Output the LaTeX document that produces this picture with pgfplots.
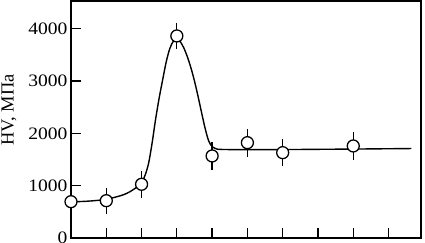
\documentclass[border=0pt]{standalone}
\usepackage{fontspec}
\setmainfont{Liberation Serif}
\newfontfamily\tickfont{Liberation Serif}[FakeStretch=1.12]
\usepackage{pgfplots}
\pgfplotsset{compat=1.18}
\begin{document}
\begin{tikzpicture}
\begin{axis}[
  scale only axis,
  width=350bp, height=237bp,
  xmin=0, xmax=9.92,
  ymin=0, ymax=4530,
  axis line style={line width=1.4pt},
  tick pos=left,
  tick align=inside,
  xtick={1,2,3,4,5,6,7,8,9},
  xticklabels={},
  major tick length=10bp,
  tick style={line width=1.3pt, black},
  ytick={0,1000,2000,3000,4000},
  /pgf/number format/assume math mode=true,
  /pgf/number format/1000 sep={},
  yticklabel style={font=\tickfont\fontsize{17.5}{17.5}\selectfont, xshift=0bp},
  ylabel={HV, МПа},
  ylabel style={font=\fontsize{18.5}{18.5}\selectfont, at={(axis description cs:-0.177,0.54)}, anchor=center, rotate=0},
  clip=false,
]
\addplot[black, line width=1.4pt, smooth, tension=0.5] coordinates {
(0,690) (0.5,705) (1.0,740) (1.5,830) (1.8,940) (2.0,1060) (2.1,1200) (2.2,1430)
(2.3,1820) (2.4,2280) (2.5,2680) (2.6,3030) (2.7,3370) (2.8,3620) (2.9,3760)
(3.0,3800) (3.1,3750) (3.2,3630) (3.3,3460) (3.4,3250) (3.5,3000) (3.6,2710)
(3.7,2400) (3.8,2100) (3.9,1860) (4.0,1745) (4.1,1708) (4.25,1693) (5,1688)
(6,1690) (7,1695) (8,1700) (9.65,1710)
};
\addplot[black, line width=1.3pt, only marks, mark=*, mark size=6bp,
  mark options={fill=white, line width=1.3pt},
  error bars/.cd, y dir=both, y explicit, error mark=none,
  error bar style={line width=1.3pt}]
  coordinates {
(0,694) +- (0,250)
(1,713) +- (0,250)
(2,1027) +- (0,260)
(3,3862) +- (0,250)
(4,1568) +- (0,270)
(5,1822) +- (0,265)
(6,1631) +- (0,260)
(8,1759) +- (0,260)
};
\end{axis}
\pgfresetboundingbox
\path[use as bounding box] (-71bp,-5bp) rectangle (354bp,238bp);
\end{tikzpicture}
\end{document}
